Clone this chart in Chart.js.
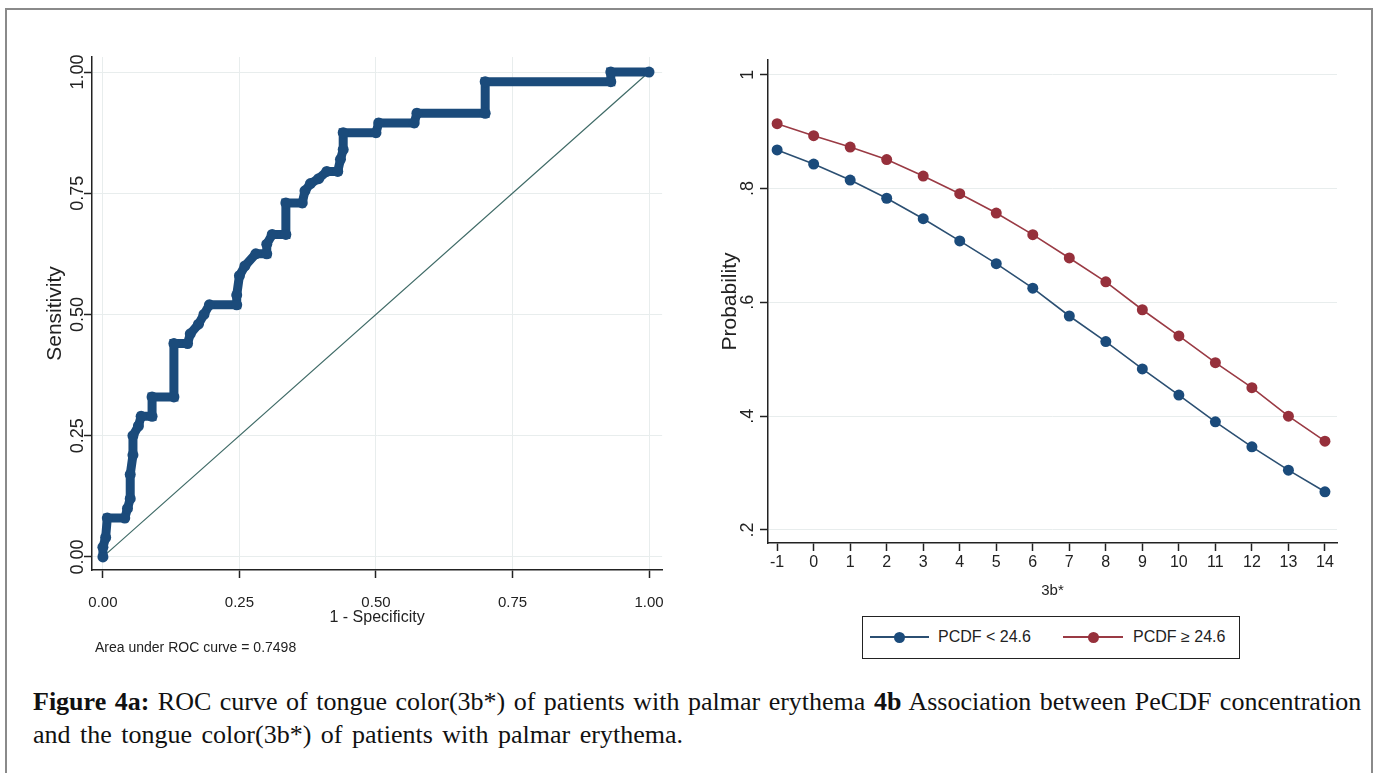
<!DOCTYPE html>
<html>
<head>
<meta charset="utf-8">
<script src="https://cdn.jsdelivr.net/npm/chart.js@4.4.1/dist/chart.umd.min.js"></script>
<style>
  body { margin: 0; background: #fff; width: 1378px; height: 773px; overflow: hidden; position: relative;
         font-family: "Liberation Sans Narrow", "Arial Narrow", "Liberation Sans", sans-serif; color: #222; }
  #frame { position: absolute; left: 5px; top: 8px; width: 1364px; height: 800px; border: 2px solid #8a8a8a; border-bottom: none; }
  #roc { position: absolute; left: 20px; top: 40px; }
  #prob { position: absolute; left: 690px; top: 40px; }
  #auc { position: absolute; left: 95px; top: 639px; font-size: 14px; }
  #legend { position: absolute; left: 862px; top: 616px; width: 378px; height: 43px; border: 1.5px solid #222; box-sizing: border-box; }
  .sw { position: absolute; top: 19px; height: 2px; }
  .dot { position: absolute; top: -4px; width: 11px; height: 11px; border-radius: 50%; }
  .lt { position: absolute; top: 11px; font-size: 16px; white-space: nowrap; }
  #caption { position: absolute; left: 33px; top: 685px; font-family: "Liberation Serif", "Times New Roman", serif;
             font-size: 26px; line-height: 33px; color: #111; white-space: nowrap; }
  #caption .l1 { word-spacing: 2px; }
  #caption .l2 { word-spacing: 3px; }
</style>
</head>
<body>
<div id="frame"></div>
<canvas id="roc" width="660" height="600"></canvas>
<canvas id="prob" width="680" height="570"></canvas>
<div id="auc">Area under ROC curve = 0.7498</div>
<div id="legend">
  <div class="sw" style="left:7px;width:59px;background:#2b4f72"><div class="dot" style="left:24px;background:#1b4b7b"></div></div>
  <div class="lt" style="left:75px">PCDF &lt; 24.6</div>
  <div class="sw" style="left:200px;width:60px;background:#9a3a44"><div class="dot" style="left:25px;background:#96303b"></div></div>
  <div class="lt" style="left:270px">PCDF ≥ 24.6</div>
</div>
<div id="caption"><span class="l1"><b>Figure 4a:</b> ROC curve of tongue color(3b*) of patients with palmar erythema <b>4b</b> Association between PeCDF concentration</span><br><span class="l2">and the tongue color(3b*) of patients with palmar erythema.</span></div>

<script>
// ROC curve (1 - specificity, sensitivity)
const rocFpr = [0, 0, 0.005, 0.008, 0.04, 0.045, 0.05, 0.05, 0.055, 0.055, 0.065, 0.07, 0.09, 0.09, 0.13, 0.13,
  0.155, 0.16, 0.175, 0.185, 0.195, 0.245, 0.245, 0.25, 0.26, 0.28, 0.30, 0.30, 0.31, 0.335, 0.335, 0.365,
  0.37, 0.38, 0.395, 0.41, 0.43, 0.435, 0.44, 0.44, 0.50, 0.505, 0.57, 0.575, 0.70, 0.70, 0.93, 0.93, 1.0];
const rocTpr = [0, 0.02, 0.04, 0.08, 0.08, 0.10, 0.12, 0.17, 0.21, 0.25, 0.27, 0.29, 0.29, 0.33, 0.33, 0.44,
  0.44, 0.46, 0.48, 0.50, 0.52, 0.52, 0.54, 0.58, 0.60, 0.625, 0.625, 0.645, 0.665, 0.665, 0.73, 0.73,
  0.755, 0.77, 0.78, 0.795, 0.795, 0.82, 0.84, 0.875, 0.875, 0.895, 0.895, 0.915, 0.915, 0.98, 0.98, 1.0, 1.0];
const refX = [0, 1];
const refY = [0, 1];
const rocTicks = [0, 0.25, 0.5, 0.75, 1];
const rocTickLabels = ['0.00', '0.25', '0.50', '0.75', '1.00'];

// predicted probability by 3b*
const b3 = [-1, 0, 1, 2, 3, 4, 5, 6, 7, 8, 9, 10, 11, 12, 13, 14];
const probLow = [0.868, 0.843, 0.815, 0.783, 0.747, 0.708, 0.668, 0.625, 0.576, 0.531, 0.483, 0.437, 0.390, 0.346, 0.305, 0.267];
const probHigh = [0.914, 0.893, 0.873, 0.851, 0.822, 0.791, 0.757, 0.719, 0.678, 0.636, 0.587, 0.541, 0.494, 0.450, 0.400, 0.356];
const probTicks = [0.2, 0.4, 0.6, 0.8, 1];
const probTickLabels = ['.2', '.4', '.6', '.8', '1'];

const fam = '"Liberation Sans Narrow", "Arial Narrow", "Liberation Sans", sans-serif';
Chart.defaults.font.family = fam;
Chart.defaults.color = '#222';

const navy = '#1b4b7b';
const maroon = '#96303b';
const gridCol = '#e8eded';
const axisCol = '#222';

const pts = (xs, ys) => xs.map((x, i) => ({ x: x, y: ys[i] }));

// left: ROC
new Chart(document.getElementById('roc'), {
  type: 'scatter',
  data: {
    datasets: [
      { data: pts(rocFpr, rocTpr), showLine: true, borderColor: navy, backgroundColor: navy,
        borderWidth: 9, pointRadius: 5.5, pointBorderWidth: 0, order: 1 },
      { data: pts(refX, refY), showLine: true, borderColor: '#3e6a66', borderWidth: 1.2,
        pointRadius: 0, order: 2 }
    ]
  },
  options: {
    responsive: false,
    animation: false,
    layout: { padding: { left: 0, right: 17, top: 17, bottom: 0 } },
    plugins: { legend: { display: false }, tooltip: { enabled: false } },
    scales: {
      x: {
        type: 'linear', min: -0.02, max: 1.024,
        afterBuildTicks: s => { s.ticks = rocTicks.map(v => ({ value: v })); },
        afterFit: s => { s.height = 70; },
        ticks: { callback: (v, i) => rocTickLabels[i], padding: 16, font: { size: 15 } },
        grid: { color: gridCol, tickColor: axisCol, tickLength: 8, tickWidth: 1.5 },
        border: { color: axisCol, width: 1.5 },
        title: { display: true, text: '1 - Specificity', font: { size: 16 }, padding: { top: 0, bottom: 13 } }
      },
      y: {
        type: 'linear', min: -0.027, max: 1.031,
        afterBuildTicks: s => { s.ticks = rocTicks.map(v => ({ value: v })); },
        afterFit: s => { s.width = 72; },
        ticks: { callback: (v, i) => rocTickLabels[i], minRotation: 90, maxRotation: 90, crossAlign: 'center',
                 padding: -11.5, font: { size: 18 } },
        grid: { color: gridCol, tickColor: axisCol, tickLength: 8, tickWidth: 1.5 },
        border: { color: axisCol, width: 1.5 },
        title: { display: true, text: 'Sensitivity', font: { size: 21 }, padding: { top: 23, bottom: 0 } }
      }
    }
  }
});

// right: probability
new Chart(document.getElementById('prob'), {
  type: 'scatter',
  data: {
    datasets: [
      { label: 'PCDF < 24.6', data: pts(b3, probLow), showLine: true, borderColor: '#2b4f72', backgroundColor: navy,
        borderWidth: 1.6, pointRadius: 5.5, pointBorderWidth: 0 },
      { label: 'PCDF ≥ 24.6', data: pts(b3, probHigh), showLine: true, borderColor: '#9a3a44', backgroundColor: maroon,
        borderWidth: 1.6, pointRadius: 5.5, pointBorderWidth: 0 }
    ]
  },
  options: {
    responsive: false,
    animation: false,
    layout: { padding: { left: 0, right: 33, top: 20, bottom: 0 } },
    plugins: { legend: { display: false }, tooltip: { enabled: false } },
    scales: {
      x: {
        type: 'linear', min: -1.25, max: 14.33,
        afterBuildTicks: s => { s.ticks = b3.map(v => ({ value: v })); },
        afterFit: s => { s.height = 67; },
        ticks: { callback: v => String(v), padding: 1.5, font: { size: 16 } },
        grid: { drawOnChartArea: false, tickColor: axisCol, tickLength: 8, tickWidth: 1.5 },
        border: { color: axisCol, width: 1.5 },
        title: { display: true, text: '3b*', font: { size: 15 }, padding: { top: 0, bottom: 10 } }
      },
      y: {
        type: 'linear', min: 0.177, max: 1.026,
        afterBuildTicks: s => { s.ticks = probTicks.map(v => ({ value: v })); },
        afterFit: s => { s.width = 78; },
        ticks: { callback: (v, i) => probTickLabels[i], minRotation: 90, maxRotation: 90, crossAlign: 'center',
                 padding: 4.5, font: { size: 18 } },
        grid: { color: gridCol, tickColor: axisCol, tickLength: 8, tickWidth: 1.5 },
        border: { color: axisCol, width: 1.5 },
        title: { display: true, text: 'Probability', font: { size: 21 }, padding: { top: 28, bottom: 0 } }
      }
    }
  }
});
</script>
</body>
</html>
